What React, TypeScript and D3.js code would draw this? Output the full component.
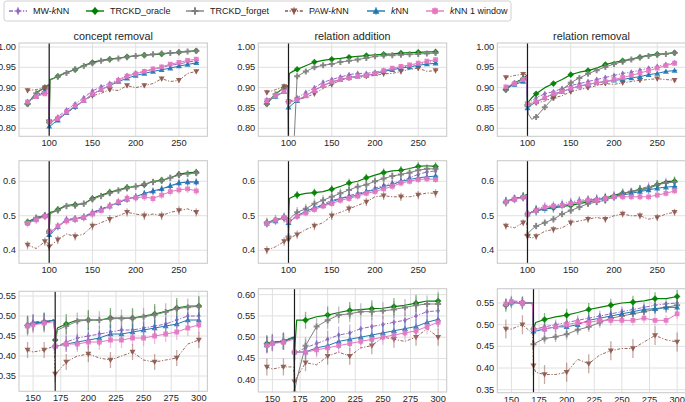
import React, { useEffect } from 'react';
import * as d3 from 'd3';

// ---------- DATA ----------
const seriesNames = ['MW-kNN', 'TRCKD_oracle', 'TRCKD_forget', 'PAW-kNN', 'kNN', 'kNN 1 window'];
const panelTitles = ['concept removal', 'relation addition', 'relation removal'];

const xTop = [75, 85, 95, 99, 100, 101, 105, 110, 120, 130, 140, 150, 160, 170, 180, 190, 200, 210, 220, 230, 240, 250, 260, 270, 273];
const xBottom = [145, 150, 160, 169, 170, 172, 180, 190, 200, 210, 220, 230, 240, 250, 260, 270, 280, 290, 300];

const changeTop = 100;
const changeBottom = 170;

const xTicksTop = [100, 150, 200, 250];
const xTicksBottom = [150, 175, 200, 225, 250, 275, 300];

const yTicksRow1 = [0.8, 0.85, 0.9, 0.95, 1.0];
const yTicksRow2 = [0.4, 0.5, 0.6];
const yTicksRow3a = [0.35, 0.4, 0.45, 0.5, 0.55];
const yTicksRow3b = [0.4, 0.45, 0.5, 0.55, 0.6];
const yTicksRow3c = [0.35, 0.4, 0.45, 0.5, 0.55];

const yLimRow1 = [0.7802, 1.0099];
const yLimRow2 = [0.362, 0.6597];
const yLimRow3a = [0.3118, 0.5618];
const yLimRow3b = [0.371, 0.614];
const yLimRow3c = [0.343, 0.583];

// Row 1 — concept removal
const r1cMW = [0.865, 0.88, 0.895, 0.905, 0.815, 0.815, 0.82, 0.828, 0.845, 0.86, 0.875, 0.892, 0.902, 0.91, 0.92, 0.93, 0.936, 0.94, 0.945, 0.95, 0.955, 0.958, 0.963, 0.966, 0.967];
const r1cOr = [0.86, 0.888, 0.9, 0.907, 0.815, 0.92, 0.923, 0.928, 0.938, 0.944, 0.955, 0.962, 0.967, 0.97, 0.973, 0.976, 0.979, 0.98, 0.981, 0.983, 0.985, 0.987, 0.989, 0.991, 0.99];
const r1cFo = [0.86, 0.886, 0.9, 0.906, 0.82, 0.918, 0.922, 0.927, 0.936, 0.945, 0.953, 0.96, 0.966, 0.969, 0.972, 0.975, 0.978, 0.98, 0.982, 0.984, 0.985, 0.987, 0.989, 0.99, 0.991];
const r1cPa = [0.893, 0.895, 0.9, 0.905, 0.815, 0.815, 0.818, 0.822, 0.838, 0.852, 0.868, 0.88, 0.886, 0.895, 0.893, 0.905, 0.9, 0.905, 0.91, 0.922, 0.915, 0.918, 0.935, 0.94, 0.944];
const r1cKn = [0.865, 0.878, 0.89, 0.9, 0.805, 0.805, 0.812, 0.82, 0.838, 0.853, 0.868, 0.884, 0.895, 0.905, 0.915, 0.923, 0.93, 0.935, 0.94, 0.944, 0.948, 0.953, 0.957, 0.961, 0.962];
const r1cK1 = [0.865, 0.878, 0.885, 0.903, 0.815, 0.815, 0.818, 0.824, 0.84, 0.855, 0.868, 0.884, 0.895, 0.906, 0.918, 0.928, 0.934, 0.94, 0.946, 0.951, 0.958, 0.962, 0.967, 0.97, 0.97];
const r1cErr = [0.004, 0.005, 0.004, 0.006, 0.003, 0.004];

// Row 1 — relation addition
const r1aMW = [0.865, 0.878, 0.893, 0.903, 0.865, 0.865, 0.87, 0.875, 0.888, 0.9, 0.913, 0.92, 0.926, 0.932, 0.935, 0.935, 0.938, 0.942, 0.945, 0.95, 0.954, 0.957, 0.962, 0.965, 0.966];
const r1aOr = [0.86, 0.885, 0.9, 0.905, 0.865, 0.935, 0.94, 0.945, 0.954, 0.963, 0.967, 0.97, 0.972, 0.975, 0.977, 0.979, 0.981, 0.982, 0.983, 0.985, 0.986, 0.987, 0.988, 0.988, 0.988];
const r1aFo = [0.86, 0.884, 0.9, 0.905, 0.7, 0.7, 0.7, 0.928, 0.94, 0.95, 0.955, 0.958, 0.963, 0.966, 0.969, 0.973, 0.977, 0.979, 0.98, 0.981, 0.982, 0.983, 0.984, 0.985, 0.986];
const r1aPa = [0.888, 0.895, 0.903, 0.905, 0.865, 0.865, 0.867, 0.87, 0.876, 0.885, 0.898, 0.908, 0.918, 0.924, 0.925, 0.928, 0.93, 0.934, 0.935, 0.94, 0.945, 0.948, 0.94, 0.942, 0.943];
const r1aKn = [0.87, 0.878, 0.89, 0.9, 0.852, 0.852, 0.86, 0.868, 0.88, 0.893, 0.905, 0.914, 0.92, 0.925, 0.928, 0.93, 0.934, 0.94, 0.944, 0.948, 0.951, 0.955, 0.958, 0.96, 0.96];
const r1aK1 = [0.868, 0.88, 0.89, 0.9, 0.865, 0.865, 0.866, 0.87, 0.88, 0.893, 0.905, 0.914, 0.92, 0.924, 0.928, 0.93, 0.935, 0.942, 0.948, 0.952, 0.956, 0.96, 0.965, 0.969, 0.97];
const r1aErr = [0.005, 0.004, 0.004, 0.007, 0.004, 0.005];

// Row 1 — relation removal
const r1rMW = [0.9, 0.912, 0.922, 0.928, 0.86, 0.86, 0.868, 0.875, 0.885, 0.89, 0.898, 0.905, 0.91, 0.915, 0.92, 0.925, 0.93, 0.935, 0.938, 0.943, 0.948, 0.952, 0.957, 0.961, 0.962];
const r1rOr = [0.895, 0.912, 0.922, 0.93, 0.858, 0.865, 0.875, 0.885, 0.9, 0.91, 0.92, 0.932, 0.938, 0.942, 0.948, 0.957, 0.962, 0.966, 0.97, 0.975, 0.98, 0.982, 0.984, 0.986, 0.986];
const r1rFo = [0.895, 0.91, 0.92, 0.928, 0.855, 0.835, 0.822, 0.828, 0.852, 0.875, 0.895, 0.912, 0.924, 0.934, 0.943, 0.951, 0.958, 0.964, 0.969, 0.974, 0.978, 0.981, 0.983, 0.985, 0.986];
const r1rPa = [0.925, 0.93, 0.933, 0.932, 0.86, 0.86, 0.86, 0.862, 0.867, 0.875, 0.88, 0.89, 0.895, 0.9, 0.905, 0.91, 0.908, 0.912, 0.915, 0.918, 0.92, 0.922, 0.92, 0.918, 0.915];
const r1rKn = [0.9, 0.908, 0.915, 0.925, 0.85, 0.85, 0.858, 0.865, 0.875, 0.885, 0.89, 0.898, 0.904, 0.908, 0.912, 0.915, 0.918, 0.92, 0.924, 0.927, 0.932, 0.935, 0.94, 0.942, 0.943];
const r1rK1 = [0.902, 0.91, 0.92, 0.928, 0.86, 0.86, 0.862, 0.865, 0.875, 0.885, 0.89, 0.898, 0.903, 0.908, 0.912, 0.915, 0.92, 0.925, 0.93, 0.936, 0.942, 0.948, 0.954, 0.96, 0.961];
const r1rErr = [0.005, 0.005, 0.004, 0.006, 0.004, 0.005];

// Row 2 — concept removal
const r2cMW = [0.48, 0.492, 0.5, 0.505, 0.45, 0.45, 0.46, 0.47, 0.49, 0.492, 0.498, 0.51, 0.52, 0.53, 0.54, 0.55, 0.555, 0.563, 0.57, 0.577, 0.585, 0.595, 0.598, 0.598, 0.598];
const r2cOr = [0.482, 0.495, 0.5, 0.505, 0.455, 0.51, 0.512, 0.518, 0.53, 0.532, 0.535, 0.55, 0.56, 0.568, 0.575, 0.582, 0.585, 0.59, 0.6, 0.603, 0.61, 0.62, 0.625, 0.626, 0.625];
const r2cFo = [0.48, 0.494, 0.5, 0.505, 0.45, 0.505, 0.51, 0.516, 0.528, 0.53, 0.535, 0.548, 0.557, 0.566, 0.573, 0.58, 0.585, 0.592, 0.598, 0.602, 0.61, 0.618, 0.622, 0.624, 0.624];
const r2cPa = [0.415, 0.405, 0.425, 0.42, 0.41, 0.41, 0.42, 0.43, 0.447, 0.44, 0.447, 0.47, 0.48, 0.49, 0.5, 0.51, 0.505, 0.5, 0.505, 0.5, 0.51, 0.515, 0.52, 0.51, 0.503];
const r2cKn = [0.48, 0.49, 0.5, 0.505, 0.445, 0.445, 0.455, 0.468, 0.487, 0.49, 0.495, 0.508, 0.518, 0.528, 0.538, 0.548, 0.555, 0.565, 0.572, 0.578, 0.587, 0.595, 0.598, 0.598, 0.598];
const r2cK1 = [0.478, 0.488, 0.498, 0.503, 0.455, 0.455, 0.46, 0.47, 0.485, 0.49, 0.495, 0.505, 0.515, 0.528, 0.54, 0.55, 0.552, 0.555, 0.55, 0.56, 0.57, 0.575, 0.578, 0.572, 0.57];
const r2cErr = [0.01, 0.01, 0.01, 0.012, 0.01, 0.012];

// Row 2 — relation addition
const r2aMW = [0.478, 0.487, 0.495, 0.495, 0.485, 0.485, 0.492, 0.5, 0.513, 0.523, 0.533, 0.545, 0.55, 0.558, 0.565, 0.57, 0.58, 0.588, 0.595, 0.6, 0.61, 0.62, 0.627, 0.63, 0.63];
const r2aOr = [0.48, 0.488, 0.495, 0.49, 0.485, 0.55, 0.555, 0.56, 0.565, 0.567, 0.57, 0.577, 0.585, 0.595, 0.6, 0.61, 0.618, 0.625, 0.63, 0.632, 0.637, 0.643, 0.645, 0.643, 0.642];
const r2aFo = [0.48, 0.488, 0.495, 0.492, 0.44, 0.49, 0.5, 0.51, 0.52, 0.535, 0.545, 0.555, 0.565, 0.575, 0.584, 0.59, 0.6, 0.608, 0.615, 0.62, 0.625, 0.632, 0.636, 0.636, 0.635];
const r2aPa = [0.4, 0.41, 0.425, 0.43, 0.43, 0.43, 0.44, 0.445, 0.46, 0.47, 0.48, 0.5, 0.51, 0.52, 0.53, 0.54, 0.555, 0.558, 0.555, 0.555, 0.555, 0.56, 0.566, 0.565, 0.564];
const r2aKn = [0.478, 0.485, 0.495, 0.495, 0.48, 0.48, 0.49, 0.5, 0.513, 0.523, 0.53, 0.54, 0.55, 0.555, 0.56, 0.57, 0.575, 0.585, 0.59, 0.6, 0.605, 0.61, 0.613, 0.615, 0.615];
const r2aK1 = [0.478, 0.487, 0.495, 0.495, 0.485, 0.485, 0.49, 0.498, 0.508, 0.518, 0.528, 0.535, 0.545, 0.55, 0.557, 0.565, 0.57, 0.578, 0.585, 0.595, 0.6, 0.605, 0.607, 0.605, 0.605];
const r2aErr = [0.01, 0.012, 0.015, 0.012, 0.01, 0.01];

// Row 2 — relation removal
const r2rMW = [0.543, 0.55, 0.555, 0.56, 0.505, 0.505, 0.512, 0.52, 0.527, 0.53, 0.535, 0.54, 0.545, 0.548, 0.55, 0.555, 0.56, 0.565, 0.57, 0.578, 0.585, 0.59, 0.598, 0.6, 0.6];
const r2rOr = [0.54, 0.55, 0.555, 0.562, 0.505, 0.505, 0.51, 0.515, 0.52, 0.523, 0.527, 0.53, 0.535, 0.54, 0.545, 0.55, 0.56, 0.565, 0.57, 0.575, 0.58, 0.59, 0.6, 0.6, 0.6];
const r2rFo = [0.54, 0.55, 0.555, 0.56, 0.445, 0.45, 0.46, 0.47, 0.48, 0.49, 0.505, 0.515, 0.525, 0.535, 0.54, 0.545, 0.555, 0.565, 0.57, 0.575, 0.58, 0.59, 0.595, 0.598, 0.598];
const r2rPa = [0.47, 0.465, 0.48, 0.48, 0.44, 0.44, 0.435, 0.44, 0.455, 0.46, 0.465, 0.48, 0.485, 0.49, 0.495, 0.49, 0.5, 0.505, 0.5, 0.5, 0.49, 0.495, 0.505, 0.51, 0.51];
const r2rKn = [0.542, 0.548, 0.555, 0.56, 0.505, 0.505, 0.51, 0.515, 0.52, 0.525, 0.53, 0.535, 0.54, 0.545, 0.548, 0.55, 0.555, 0.56, 0.565, 0.57, 0.575, 0.58, 0.583, 0.585, 0.585];
const r2rK1 = [0.54, 0.548, 0.553, 0.56, 0.505, 0.505, 0.51, 0.515, 0.525, 0.528, 0.53, 0.535, 0.54, 0.545, 0.545, 0.55, 0.555, 0.555, 0.555, 0.555, 0.555, 0.56, 0.565, 0.572, 0.572];
const r2rErr = [0.012, 0.014, 0.01, 0.01, 0.012, 0.01];

// Row 3 — concept removal
const r3cMW = [0.478, 0.485, 0.488, 0.49, 0.425, 0.425, 0.435, 0.445, 0.45, 0.455, 0.46, 0.465, 0.465, 0.47, 0.475, 0.48, 0.49, 0.5, 0.5];
const r3cOr = [0.476, 0.48, 0.484, 0.49, 0.44, 0.47, 0.48, 0.49, 0.49, 0.49, 0.495, 0.495, 0.495, 0.5, 0.505, 0.512, 0.52, 0.525, 0.525];
const r3cFo = [0.477, 0.481, 0.485, 0.49, 0.425, 0.465, 0.475, 0.487, 0.49, 0.49, 0.493, 0.494, 0.494, 0.498, 0.503, 0.51, 0.518, 0.522, 0.524];
const r3cPa = [0.415, 0.41, 0.415, 0.425, 0.355, 0.36, 0.385, 0.4, 0.405, 0.395, 0.39, 0.4, 0.41, 0.39, 0.385, 0.39, 0.395, 0.43, 0.44];
const r3cKn = [0.477, 0.483, 0.485, 0.49, 0.425, 0.425, 0.43, 0.435, 0.44, 0.445, 0.455, 0.455, 0.46, 0.465, 0.47, 0.475, 0.48, 0.49, 0.49];
const r3cK1 = [0.475, 0.478, 0.482, 0.486, 0.425, 0.425, 0.43, 0.43, 0.435, 0.435, 0.44, 0.44, 0.445, 0.445, 0.45, 0.455, 0.46, 0.47, 0.478];
const r3cErr = [0.02, 0.025, 0.022, 0.02, 0.02, 0.02];

// Row 3 — relation addition
const r3aMW = [0.482, 0.488, 0.492, 0.5, 0.465, 0.465, 0.475, 0.485, 0.495, 0.505, 0.51, 0.52, 0.525, 0.53, 0.535, 0.54, 0.55, 0.56, 0.562];
const r3aOr = [0.485, 0.488, 0.49, 0.5, 0.465, 0.54, 0.54, 0.548, 0.552, 0.558, 0.563, 0.565, 0.567, 0.568, 0.572, 0.575, 0.58, 0.585, 0.585];
const r3aFo = [0.483, 0.487, 0.49, 0.498, 0.37, 0.4, 0.48, 0.525, 0.54, 0.552, 0.555, 0.56, 0.56, 0.562, 0.565, 0.57, 0.575, 0.578, 0.578];
const r3aPa = [0.43, 0.425, 0.43, 0.43, 0.395, 0.405, 0.44, 0.435, 0.455, 0.465, 0.455, 0.475, 0.48, 0.5, 0.495, 0.49, 0.5, 0.52, 0.5];
const r3aKn = [0.482, 0.487, 0.49, 0.498, 0.465, 0.465, 0.465, 0.475, 0.48, 0.49, 0.495, 0.5, 0.505, 0.51, 0.515, 0.52, 0.525, 0.535, 0.542];
const r3aK1 = [0.48, 0.485, 0.488, 0.495, 0.465, 0.465, 0.465, 0.47, 0.475, 0.48, 0.485, 0.49, 0.495, 0.5, 0.505, 0.51, 0.515, 0.525, 0.535];
const r3aErr = [0.02, 0.02, 0.02, 0.02, 0.018, 0.018];

// Row 3 — relation removal
const r3rMW = [0.548, 0.555, 0.553, 0.55, 0.49, 0.49, 0.495, 0.5, 0.505, 0.51, 0.515, 0.52, 0.525, 0.53, 0.535, 0.54, 0.545, 0.548, 0.55];
const r3rOr = [0.545, 0.552, 0.55, 0.55, 0.49, 0.505, 0.512, 0.518, 0.522, 0.528, 0.535, 0.54, 0.545, 0.55, 0.552, 0.555, 0.56, 0.56, 0.565];
const r3rFo = [0.545, 0.55, 0.55, 0.55, 0.455, 0.458, 0.468, 0.472, 0.478, 0.488, 0.495, 0.505, 0.515, 0.52, 0.525, 0.53, 0.535, 0.54, 0.545];
const r3rPa = [0.49, 0.49, 0.5, 0.48, 0.405, 0.39, 0.385, 0.385, 0.39, 0.42, 0.41, 0.43, 0.44, 0.445, 0.445, 0.46, 0.475, 0.465, 0.46];
const r3rKn = [0.548, 0.552, 0.55, 0.55, 0.485, 0.485, 0.49, 0.495, 0.495, 0.5, 0.51, 0.515, 0.52, 0.525, 0.53, 0.535, 0.537, 0.54, 0.54];
const r3rK1 = [0.548, 0.553, 0.55, 0.55, 0.49, 0.49, 0.49, 0.495, 0.5, 0.505, 0.505, 0.51, 0.51, 0.51, 0.51, 0.515, 0.51, 0.51, 0.525];
const r3rErr = [0.012, 0.015, 0.012, 0.022, 0.012, 0.012];

// ---------- STYLE ----------
const COLORS = ['#9467bd', '#008000', '#7f7f7f', '#8c564b', '#1f77b4', '#e377c2'];
const MARKERS = ['thinDiamond', 'diamond', 'plus', 'triDown', 'triUp', 'square'];
const DASHES: (string | null)[] = ['4,1.6,1.2,1.6', null, null, '3,1.6,1.2,1.6', null, null];
const MARK_STRIDE = [1, 2, 1, 2, 1, 1];
const LINE_W = [1, 1.2, 1, 0.9, 1, 1];
const FONT = '"Liberation Sans", Arial, Helvetica, sans-serif';

const COL_LEFT = [19, 258.3, 497.3];
const COL_W = 188.4;
const ROW_BOX = [
  [[43, 136.3], [43, 136.3], [43, 136.3]],
  [[160.7, 263.3], [160.7, 263.3], [160.7, 263.3]],
  [[291.3, 391.3], [288.7, 392], [288.7, 392.7]],
];

type Panel = {
  title?: string;
  xs: number[];
  series: number[][];
  err: number[];
  yLim: number[];
  yTicks: number[];
  yFmt: string;
  xTicks: number[];
  change: number;
  row: number;
  col: number;
};

const panels: Panel[] = [
  { title: panelTitles[0], xs: xTop, series: [r1cMW, r1cOr, r1cFo, r1cPa, r1cKn, r1cK1], err: r1cErr, yLim: yLimRow1, yTicks: yTicksRow1, yFmt: '.2f', xTicks: xTicksTop, change: changeTop, row: 0, col: 0 },
  { title: panelTitles[1], xs: xTop, series: [r1aMW, r1aOr, r1aFo, r1aPa, r1aKn, r1aK1], err: r1aErr, yLim: yLimRow1, yTicks: yTicksRow1, yFmt: '.2f', xTicks: xTicksTop, change: changeTop, row: 0, col: 1 },
  { title: panelTitles[2], xs: xTop, series: [r1rMW, r1rOr, r1rFo, r1rPa, r1rKn, r1rK1], err: r1rErr, yLim: yLimRow1, yTicks: yTicksRow1, yFmt: '.2f', xTicks: xTicksTop, change: changeTop, row: 0, col: 2 },
  { xs: xTop, series: [r2cMW, r2cOr, r2cFo, r2cPa, r2cKn, r2cK1], err: r2cErr, yLim: yLimRow2, yTicks: yTicksRow2, yFmt: '.1f', xTicks: xTicksTop, change: changeTop, row: 1, col: 0 },
  { xs: xTop, series: [r2aMW, r2aOr, r2aFo, r2aPa, r2aKn, r2aK1], err: r2aErr, yLim: yLimRow2, yTicks: yTicksRow2, yFmt: '.1f', xTicks: xTicksTop, change: changeTop, row: 1, col: 1 },
  { xs: xTop, series: [r2rMW, r2rOr, r2rFo, r2rPa, r2rKn, r2rK1], err: r2rErr, yLim: yLimRow2, yTicks: yTicksRow2, yFmt: '.1f', xTicks: xTicksTop, change: changeTop, row: 1, col: 2 },
  { xs: xBottom, series: [r3cMW, r3cOr, r3cFo, r3cPa, r3cKn, r3cK1], err: r3cErr, yLim: yLimRow3a, yTicks: yTicksRow3a, yFmt: '.2f', xTicks: xTicksBottom, change: changeBottom, row: 2, col: 0 },
  { xs: xBottom, series: [r3aMW, r3aOr, r3aFo, r3aPa, r3aKn, r3aK1], err: r3aErr, yLim: yLimRow3b, yTicks: yTicksRow3b, yFmt: '.2f', xTicks: xTicksBottom, change: changeBottom, row: 2, col: 1 },
  { xs: xBottom, series: [r3rMW, r3rOr, r3rFo, r3rPa, r3rKn, r3rK1], err: r3rErr, yLim: yLimRow3c, yTicks: yTicksRow3c, yFmt: '.2f', xTicks: xTicksBottom, change: changeBottom, row: 2, col: 2 },
];

function markerPath(kind: string, r = 3): string {
  switch (kind) {
    case 'thinDiamond':
      return `M0,${-r}L${r * 0.62},0L0,${r}L${-r * 0.62},0Z`;
    case 'diamond':
      return `M0,${-r * 1.1}L${r * 1.1},0L0,${r * 1.1}L${-r * 1.1},0Z`;
    case 'plus': {
      const t = 1;
      return `M${-t},${-r}H${t}V${-t}H${r}V${t}H${t}V${r}H${-t}V${t}H${-r}V${-t}H${-t}Z`;
    }
    case 'triDown':
      return `M${-r},${-r * 0.75}L${r},${-r * 0.75}L0,${r}Z`;
    case 'triUp':
      return `M${-r},${r * 0.75}L${r},${r * 0.75}L0,${-r}Z`;
    case 'square': {
      const s = r * 0.8;
      return `M${-s},${-s}H${s}V${s}H${-s}Z`;
    }
  }
  return '';
}

function isMarkable(x: number, change: number): boolean {
  if (x === change) return true;
  return x % 5 === 0 && x !== change + 5;
}

function Label({ name }: { name: string }) {
  const i = name.indexOf('kNN');
  if (i < 0) return <>{name}</>;
  return (
    <>
      {name.slice(0, i)}
      <tspan fontStyle="italic">k</tspan>
      {name.slice(i + 1)}
    </>
  );
}

function PanelView({ p, idx }: { p: Panel; idx: number }) {
  const left = COL_LEFT[p.col];
  const [top, bottom] = ROW_BOX[p.row][p.col];
  const right = left + COL_W;
  const [xmin, xmax] = d3.extent(p.xs) as [number, number];
  const pad = (xmax - xmin) * 0.05;
  const x = d3.scaleLinear().domain([xmin - pad, xmax + pad]).range([left, right]);
  const y = d3.scaleLinear().domain(p.yLim).range([bottom, top]);
  const fmt = d3.format(p.yFmt);
  const line = d3
    .line<number>()
    .x((_, i) => x(p.xs[i]))
    .y((d) => y(d));
  const clipId = `clip${idx}`;
  const markIdx = p.xs.map((xv, i) => (isMarkable(xv, p.change) ? i : -1)).filter((i) => i >= 0);

  return (
    <g>
      <defs>
        <clipPath id={clipId}>
          <rect x={left} y={top} width={right - left} height={bottom - top} />
        </clipPath>
      </defs>
      <rect x={left} y={top} width={right - left} height={bottom - top} fill="#ffffff" />
      {p.xTicks.map((t) => (
        <line key={'gx' + t} x1={x(t)} x2={x(t)} y1={top} y2={bottom} stroke="#e0e0e0" strokeWidth={1} />
      ))}
      {p.yTicks.map((t) => (
        <line key={'gy' + t} x1={left} x2={right} y1={y(t)} y2={y(t)} stroke="#e0e0e0" strokeWidth={1} />
      ))}
      <g clipPath={`url(#${clipId})`}>
        {p.series.map((vals, s) => (
          <g key={s}>
            <path
              d={line(vals) || ''}
              fill="none"
              stroke={COLORS[s]}
              strokeWidth={LINE_W[s]}
              strokeDasharray={DASHES[s] || undefined}
              strokeLinejoin="round"
            />
            {markIdx
              .filter((i, k) => k % MARK_STRIDE[s] === 0 || p.xs[i] === p.change)
              .map((i) => (
                <g key={i}>
                  <line
                    x1={x(p.xs[i])}
                    x2={x(p.xs[i])}
                    y1={y(vals[i] - p.err[s])}
                    y2={y(vals[i] + p.err[s])}
                    stroke={COLORS[s]}
                    strokeWidth={1.3}
                    strokeOpacity={0.5}
                  />
                  <path
                    d={markerPath(MARKERS[s])}
                    transform={`translate(${x(p.xs[i])},${y(vals[i])})`}
                    fill={COLORS[s]}
                    fillOpacity={0.9}
                  />
                </g>
              ))}
          </g>
        ))}
        <line x1={x(p.change)} x2={x(p.change)} y1={top} y2={bottom} stroke="#1a1a1a" strokeWidth={1.2} />
      </g>
      <rect x={left} y={top} width={right - left} height={bottom - top} fill="none" stroke="#cccccc" strokeWidth={1.1} />
      {p.yTicks.map((t) => (
        <text
          key={'ty' + t}
          x={left - 3}
          y={y(t)}
          textAnchor="end"
          dominantBaseline="central"
          fontSize={9.3}
          fill="#262626"
          fontFamily={FONT}
        >
          {fmt(t)}
        </text>
      ))}
      {p.xTicks.map((t) => (
        <text
          key={'tx' + t}
          x={x(t)}
          y={bottom + 6.8}
          textAnchor="middle"
          dominantBaseline="central"
          fontSize={9.3}
          fill="#262626"
          fontFamily={FONT}
        >
          {t}
        </text>
      ))}
      {p.title && (
        <text x={(left + right) / 2} y={top - 3} textAnchor="middle" fontSize={10.8} fill="#262626" fontFamily={FONT}>
          {p.title}
        </text>
      )}
    </g>
  );
}

const LEGEND_HX = [9, 86, 186, 285, 367, 426];

function Legend() {
  const cy = 11;
  return (
    <g>
      <rect x={4} y={1} width={507} height={20} rx={2.5} fill="#ffffff" fillOpacity={0.85} stroke="#d0d0d0" strokeWidth={1} />
      {seriesNames.map((name, s) => {
        const hx = LEGEND_HX[s];
        const cx = hx + 9;
        return (
          <g key={name}>
            <line
              x1={hx}
              x2={hx + 18}
              y1={cy}
              y2={cy}
              stroke={COLORS[s]}
              strokeWidth={1.4}
              strokeDasharray={DASHES[s] || undefined}
            />
            <line x1={cx} x2={cx} y1={cy - 4} y2={cy + 4} stroke={COLORS[s]} strokeWidth={1.3} strokeOpacity={0.55} />
            <path d={markerPath(MARKERS[s], 3.5)} transform={`translate(${cx},${cy})`} fill={COLORS[s]} />
            <text x={hx + 24} y={cy} dominantBaseline="central" fontSize={9} fill="#1a1a1a" fontFamily={FONT}>
              <Label name={name} />
            </text>
          </g>
        );
      })}
    </g>
  );
}

export default function App() {
  useEffect(() => {
    document.body.style.margin = '0';
  }, []);
  return (
    <svg
      width={685}
      height={402}
      viewBox="0 0 685 402"
      style={{ position: 'absolute', left: 0, top: 0, background: '#ffffff' }}
    >
      <rect x={0} y={0} width={685} height={402} fill="#ffffff" />
      {panels.map((p, i) => (
        <PanelView key={i} p={p} idx={i} />
      ))}
      <Legend />
    </svg>
  );
}
